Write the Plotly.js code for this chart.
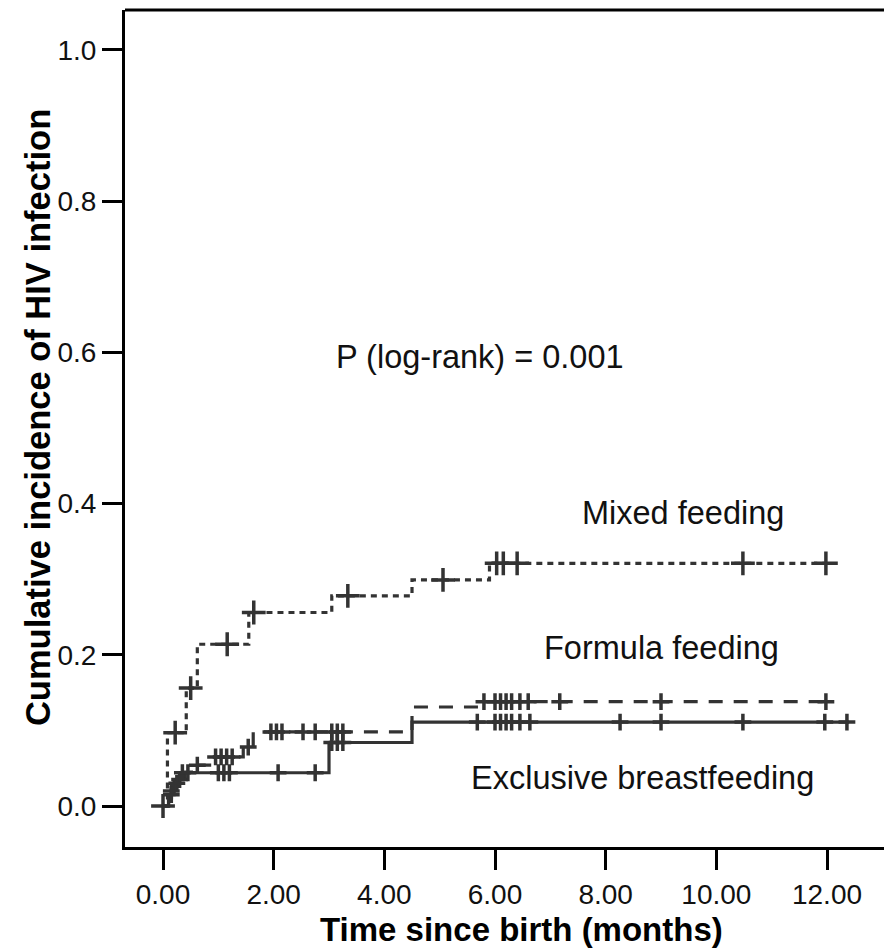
<!DOCTYPE html>
<html>
<head>
<meta charset="utf-8">
<script src="https://cdn.plot.ly/plotly-3.0.1.min.js"></script>
<style>html,body{margin:0;padding:0;background:#fff}#chart{width:884px;height:952px}</style>
</head>
<body>
<div id="chart"></div>
<script>
// ---- Data ----
// Mixed feeding: step times (months) and cumulative incidence
const mixedTime = [0, 0.08, 0.42, 0.62, 1.55, 3.05, 4.5, 5.9, 12.0];
const mixedInc  = [0, 0.097, 0.156, 0.214, 0.256, 0.278, 0.299, 0.321, 0.321];
const mixedCensor = [0, 0.22, 0.5, 1.16, 1.64, 3.34, 5.06, 6.03, 6.15, 6.4, 10.48, 11.98];

// Formula feeding
const formulaTime = [0, 0.1, 0.2, 0.4, 0.6, 0.9, 1.45, 1.63, 4.5, 5.75, 12.0];
const formulaInc  = [0, 0.02, 0.035, 0.045, 0.054, 0.065, 0.078, 0.098, 0.131, 0.138, 0.138];
const formulaCensor = [0.15, 0.3, 0.62, 0.95, 1.05, 1.15, 1.25, 1.54, 1.95, 2.05, 2.15, 2.53, 2.75,
                       3.05, 3.15, 3.25, 5.8, 6.0, 6.1, 6.2, 6.3, 6.45, 6.6, 7.17, 9.0, 11.98];

// Exclusive breastfeeding
const ebfTime = [0, 0.1, 0.2, 0.3, 3.0, 4.5, 12.4];
const ebfInc  = [0, 0.015, 0.03, 0.044, 0.084, 0.111, 0.111];
const ebfCensor = [0.15, 0.25, 0.35, 0.45, 1.0, 1.1, 1.2, 2.08, 2.75, 3.05, 3.15, 3.25, 5.68,
                   6.0, 6.1, 6.2, 6.3, 6.45, 6.63, 8.26, 9.0, 10.48, 11.96, 12.36];

const xTickVals = [0, 2, 4, 6, 8, 10, 12];
const yTickVals = [0, 0.2, 0.4, 0.6, 0.8, 1.0];

const groupLabels = ["Mixed feeding", "Formula feeding", "Exclusive breastfeeding"];
const pValueText = "P (log-rank) = 0.001";
const xTitle = "Time since birth (months)";
const yTitle = "Cumulative incidence of HIV infection";

// value of the step curve at time t
function stepAt(T, Y, t) {
  let v = Y[0];
  for (let i = 0; i < T.length; i++) { if (T[i] <= t) v = Y[i]; }
  return v;
}

const ink = '#333333';
const FONT = '"Liberation Sans", Arial, Helvetica, sans-serif';

function curve(T, Y, dash) {
  return {x: T, y: Y, mode: 'lines', line: {shape: 'hv', color: ink, width: 3.2, dash: dash},
          hoverinfo: 'skip', showlegend: false};
}
function censor(T, Y, C, size, w) {
  return {x: C, y: C.map(t => stepAt(T, Y, t)), mode: 'markers',
          marker: {symbol: 'cross-thin-open', size: size, color: ink, line: {color: ink, width: w}},
          hoverinfo: 'skip', showlegend: false};
}

const traces = [
  curve(mixedTime, mixedInc, '6px,5px'),
  curve(formulaTime, formulaInc, '14px,11px'),
  curve(ebfTime, ebfInc, 'solid'),
  censor(mixedTime, mixedInc, mixedCensor, 17, 3.5),
  censor(formulaTime, formulaInc, formulaCensor, 12, 3.5),
  censor(ebfTime, ebfInc, ebfCensor, 12, 3.5)
];

const annFont = {family: FONT, size: 32.5, color: '#111'};
const titleFont = {family: FONT, size: 34.5, color: '#000'};
const xTitleFont = {family: FONT, size: 33, color: '#000'};
const layout = {
  width: 884, height: 952,
  margin: {l: 125, r: 0, t: 10, b: 105, pad: 0},
  paper_bgcolor: '#fff', plot_bgcolor: '#fff',
  font: {family: FONT, color: '#111'},
  xaxis: {
    range: [-0.687, 13.03], tickvals: xTickVals, ticktext: xTickVals.map(v => v.toFixed(2)),
    ticks: 'outside', ticklen: 20, tickwidth: 3, tickcolor: '#000',
    showline: true, linewidth: 3, linecolor: '#000', showgrid: false, zeroline: false,
    tickfont: {family: FONT, size: 28, color: '#111'},
    title: {text: ''}
  },
  yaxis: {
    range: [-0.0542, 1.0529], tickvals: yTickVals, ticktext: yTickVals.map(v => v.toFixed(1)),
    ticks: 'outside', ticklen: 20, tickwidth: 3, tickcolor: '#000',
    showline: true, linewidth: 3, linecolor: '#000', showgrid: false, zeroline: false,
    tickfont: {family: FONT, size: 28, color: '#111'},
    title: {text: ''}
  },
  shapes: [{type: 'line', xref: 'paper', yref: 'paper', x0: 0, x1: 1, y0: 1, y1: 1,
            line: {color: '#000', width: 3}}],
  annotations: [
    {text: pValueText, x: 5.73, y: 0.594, xref: 'x', yref: 'y', showarrow: false, font: annFont},
    {text: groupLabels[0], x: 9.40, y: 0.388, xref: 'x', yref: 'y', showarrow: false, font: annFont},
    {text: groupLabels[1], x: 9.0, y: 0.209, xref: 'x', yref: 'y', showarrow: false, font: annFont},
    {text: groupLabels[2], x: 8.66, y: 0.037, xref: 'x', yref: 'y', showarrow: false, font: annFont},
    {text: '<b>' + xTitle + '</b>', xref: 'paper', yref: 'paper', x: 0.523, y: -0.0985,
     xanchor: 'center', yanchor: 'middle', showarrow: false, font: xTitleFont},
    {text: '<b>' + yTitle + '</b>', xref: 'paper', yref: 'paper', x: -0.1146, y: 0.5125,
     xanchor: 'center', yanchor: 'middle', textangle: -90, showarrow: false, font: titleFont}
  ]
};

Plotly.newPlot('chart', traces, layout, {staticPlot: true, displayModeBar: false});
</script>
</body>
</html>
